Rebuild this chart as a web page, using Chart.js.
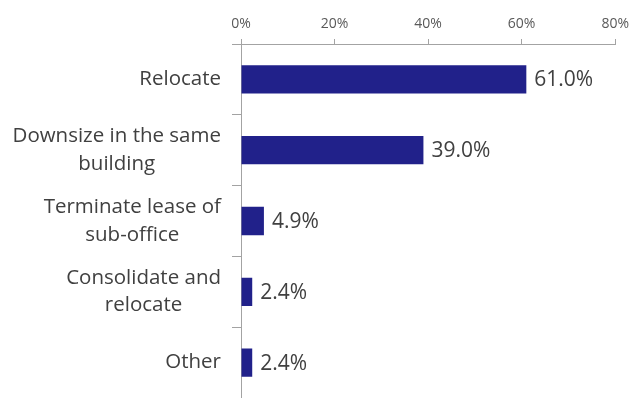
<!DOCTYPE html>
<html>
<head>
<meta charset="utf-8">
<script src="https://cdn.jsdelivr.net/npm/chart.js@4.4.1/dist/chart.umd.min.js"></script>
<style>
  html, body { margin: 0; padding: 0; background: #ffffff; }
  #wrap { width: 636px; height: 398px; }
</style>
</head>
<body>
<div id="wrap"><canvas id="chart" width="636" height="398"></canvas></div>
<script>
// Survey responses: planned office space action
const categories = [
  ["Relocate"],
  ["Downsize in the same", "building"],
  ["Terminate lease of", "sub-office"],
  ["Consolidate and", "relocate"],
  ["Other"]
];
const shares = [61.0, 39.0, 4.9, 2.4, 2.4];
const axisTicks = [0, 20, 40, 60, 80];

const CATEGORY_FONT = '20.5px "Open Sans", "Noto Sans", sans-serif';
const VALUE_FONT = '21px "Open Sans", "Noto Sans", sans-serif';
const AXIS_COLOR = '#a3a3a3';

// Category names: each block right-aligned to the axis, lines centred within the block
const categoryLabels = {
  id: 'categoryLabels',
  afterDraw(chart) {
    const yScale = chart.scales.y;
    const ctx = chart.ctx;
    const right = 221;
    const lineHeight = 27.5;
    ctx.save();
    ctx.font = CATEGORY_FONT;
    ctx.fillStyle = '#404040';
    ctx.textAlign = 'center';
    ctx.textBaseline = 'middle';
    categories.forEach((lines, i) => {
      const cy = yScale.getPixelForValue(i);
      const w = Math.max(...lines.map(l => ctx.measureText(l).width));
      const cx = right - w / 2;
      lines.forEach((line, j) => {
        ctx.fillText(line, cx, cy + (j - (lines.length - 1) / 2) * lineHeight);
      });
    });
    ctx.restore();
  }
};

// Percentage printed just past the end of each bar
const valueLabels = {
  id: 'valueLabels',
  afterDatasetsDraw(chart) {
    const ctx = chart.ctx;
    const meta = chart.getDatasetMeta(0);
    ctx.save();
    ctx.font = VALUE_FONT;
    ctx.fillStyle = '#404040';
    ctx.textAlign = 'left';
    ctx.textBaseline = 'middle';
    meta.data.forEach((bar, i) => {
      ctx.fillText(shares[i].toFixed(1) + '%', bar.x + 8, bar.y + 1);
    });
    ctx.restore();
  }
};

new Chart(document.getElementById('chart'), {
  type: 'bar',
  data: {
    labels: categories,
    datasets: [{
      data: shares,
      backgroundColor: '#21218a',
      borderWidth: 0,
      barPercentage: 0.4,
      categoryPercentage: 1.0
    }]
  },
  options: {
    indexAxis: 'y',
    responsive: false,
    animation: false,
    devicePixelRatio: 1,
    layout: { padding: { left: 0, right: 20, top: 0, bottom: 0 } },
    plugins: {
      legend: { display: false },
      tooltip: { enabled: false }
    },
    scales: {
      x: {
        position: 'top',
        min: axisTicks[0],
        max: axisTicks[axisTicks.length - 1],
        afterBuildTicks(scale) {
          scale.ticks = axisTicks.map(v => ({ value: v }));
        },
        ticks: {
          callback: v => v + '%',
          color: '#595959',
          font: { family: '"Open Sans", "Noto Sans", sans-serif', size: 14 },
          padding: 7,
          maxRotation: 0
        },
        grid: {
          drawOnChartArea: false,
          drawTicks: true,
          tickLength: 5,
          color: AXIS_COLOR
        },
        border: { display: true, color: AXIS_COLOR },
        afterFit(scale) { scale.height = 44; }
      },
      y: {
        ticks: { display: false },
        grid: {
          offset: true,
          drawOnChartArea: false,
          drawTicks: true,
          tickLength: 9,
          color: AXIS_COLOR
        },
        border: { display: true, color: AXIS_COLOR },
        afterFit(scale) { scale.width = 241; }
      }
    }
  },
  plugins: [categoryLabels, valueLabels]
});
</script>
</body>
</html>
